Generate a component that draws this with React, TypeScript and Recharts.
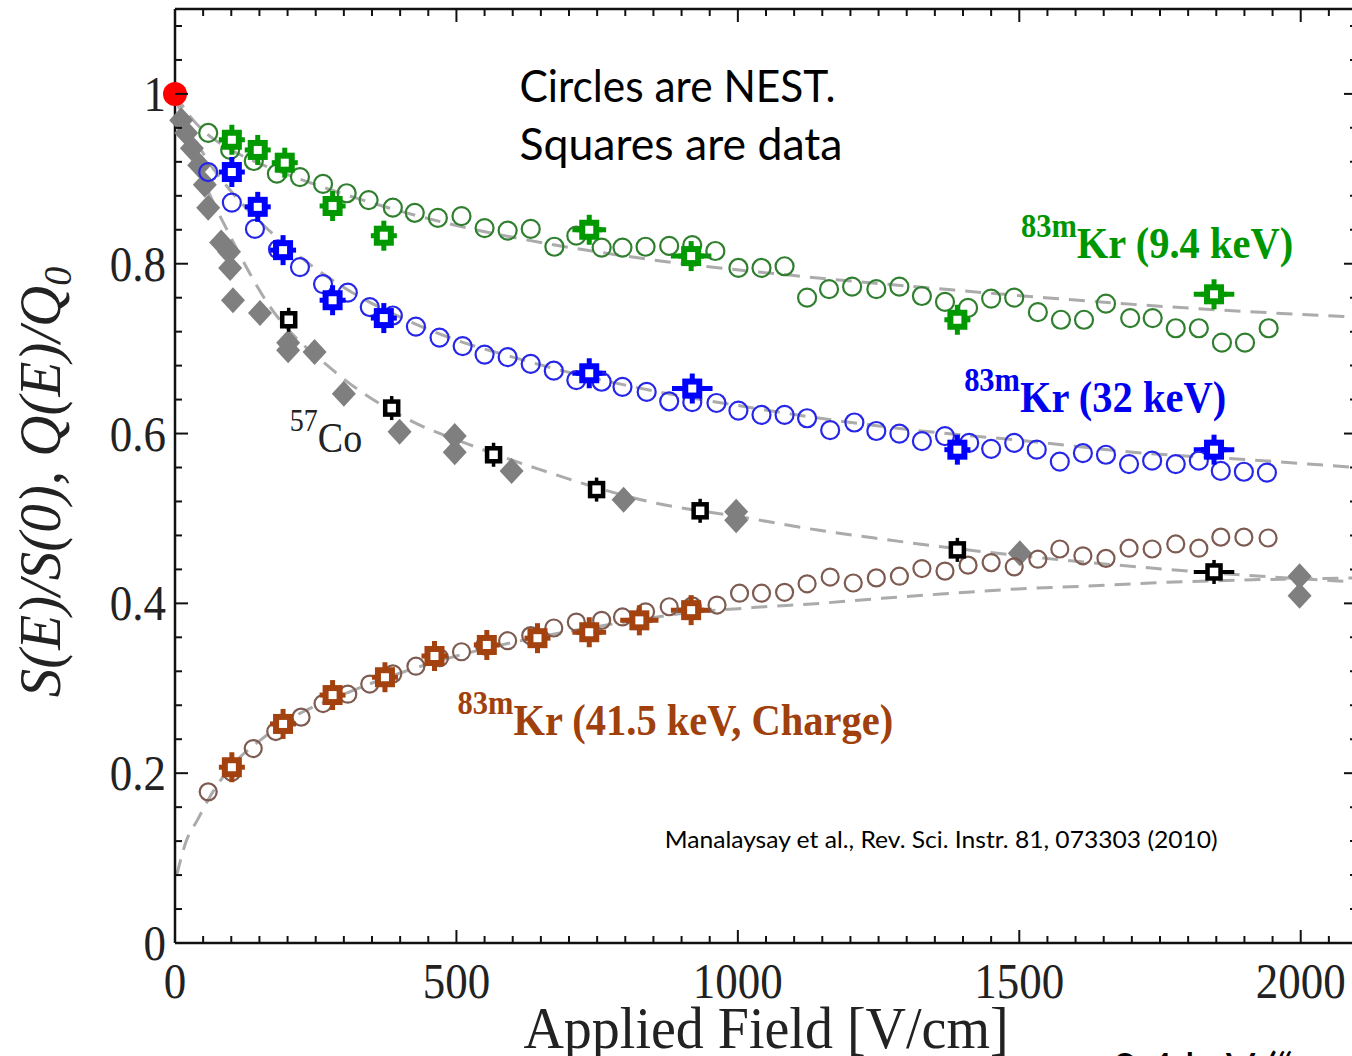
import React from 'react';
import { ComposedChart, XAxis, YAxis, Scatter, Line, ErrorBar, ReferenceDot } from 'recharts';

// ---------- axis ticks ----------
const X_TICKS = [0, 50, 100, 150, 200, 250, 300, 350, 400, 450, 500, 550, 600, 650, 700, 750, 800, 850, 900, 950, 1000, 1050, 1100, 1150, 1200, 1250, 1300, 1350, 1400, 1450, 1500, 1550, 1600, 1650, 1700, 1750, 1800, 1850, 1900, 1950, 2000, 2050, 2100];
const X_LABELS = [0, 500, 1000, 1500, 2000];
const Y_TICKS = [0, 0.04, 0.08, 0.12, 0.16, 0.2, 0.24, 0.28, 0.32, 0.36, 0.4, 0.44, 0.48, 0.52, 0.56, 0.6, 0.64, 0.68, 0.72, 0.76, 0.8, 0.84, 0.88, 0.92, 0.96, 1, 1.04, 1.08];
const Y_LABELS = [0, 0.2, 0.4, 0.6, 0.8, 1];
const Y_LABEL_TEXT = ['0', '0.2', '0.4', '0.6', '0.8', '1'];

// ---------- series: NEST (circles) ----------
const GREEN_NEST = [[59, 0.954], [98, 0.934], [140, 0.921], [181, 0.906], [222, 0.902], [263, 0.894], [305, 0.883], [344, 0.875], [387, 0.866], [426, 0.860], [467, 0.854], [509, 0.856], [550, 0.842], [591, 0.839], [632, 0.841], [674, 0.820], [713, 0.833], [758, 0.819], [795, 0.819], [836, 0.820], [878, 0.821], [919, 0.822], [960, 0.815], [1001, 0.795], [1042, 0.795], [1083, 0.797], [1123, 0.760], [1162, 0.770], [1203, 0.773], [1246, 0.770], [1287, 0.773], [1327, 0.762], [1368, 0.755], [1409, 0.748], [1450, 0.759], [1491, 0.760], [1533, 0.743], [1574, 0.734], [1615, 0.734], [1654, 0.753], [1697, 0.736], [1737, 0.736], [1778, 0.724], [1819, 0.724], [1860, 0.707], [1901, 0.707], [1943, 0.724]];
const BLUE_NEST = [[59, 0.908], [101, 0.872], [142, 0.841], [183, 0.817], [222, 0.796], [263, 0.776], [307, 0.766], [346, 0.749], [387, 0.739], [428, 0.726], [470, 0.713], [511, 0.703], [550, 0.693], [591, 0.690], [632, 0.682], [673, 0.674], [713, 0.663], [758, 0.661], [795, 0.655], [838, 0.649], [878, 0.638], [919, 0.637], [962, 0.636], [1001, 0.627], [1042, 0.622], [1083, 0.622], [1123, 0.618], [1164, 0.604], [1207, 0.613], [1246, 0.603], [1287, 0.600], [1327, 0.591], [1368, 0.597], [1411, 0.589], [1450, 0.582], [1491, 0.589], [1531, 0.581], [1572, 0.567], [1613, 0.577], [1654, 0.575], [1695, 0.564], [1736, 0.568], [1778, 0.564], [1819, 0.568], [1858, 0.556], [1899, 0.555], [1940, 0.554]];
const BROWN_NEST = [[59, 0.178], [101, 0.201], [139, 0.229], [179, 0.249], [224, 0.266], [263, 0.282], [307, 0.293], [346, 0.305], [387, 0.317], [428, 0.326], [470, 0.336], [509, 0.343], [550, 0.350], [591, 0.356], [632, 0.362], [673, 0.371], [713, 0.378], [758, 0.380], [795, 0.384], [836, 0.390], [878, 0.396], [919, 0.397], [963, 0.398], [1003, 0.412], [1042, 0.412], [1083, 0.413], [1123, 0.423], [1164, 0.431], [1205, 0.424], [1246, 0.430], [1287, 0.432], [1327, 0.441], [1368, 0.438], [1409, 0.445], [1450, 0.448], [1491, 0.443], [1533, 0.452], [1572, 0.464], [1613, 0.456], [1654, 0.453], [1695, 0.465], [1736, 0.464], [1778, 0.470], [1819, 0.465], [1858, 0.478], [1899, 0.478], [1942, 0.477]];

// ---------- series: data (squares) [x, y, xErr] ----------
const GREEN_DATA = [[101, 0.946], [147, 0.934], [195, 0.919], [280, 0.868], [371, 0.833], [736, 0.840, 30], [917, 0.809, 36], [1390, 0.734], [1846, 0.764, 36]];
const BLUE_DATA = [[101, 0.908], [147, 0.867], [192, 0.816], [280, 0.757], [371, 0.736], [736, 0.671, 30], [919, 0.653, 36], [1390, 0.581], [1846, 0.581, 36]];
const BROWN_DATA = [[101, 0.207], [192, 0.258], [280, 0.292], [373, 0.313], [461, 0.338], [554, 0.351], [644, 0.359], [736, 0.366, 30], [825, 0.380, 34], [917, 0.392, 36]];
const CO_DATA = [[202, 0.734], [385, 0.630], [566, 0.575], [749, 0.534], [933, 0.509], [1390, 0.463, 14], [1846, 0.437, 36]];
const CO_DIAMONDS = [[11, 0.969], [20, 0.954], [30, 0.936], [43, 0.916], [53, 0.893], [59, 0.866], [82, 0.825], [96, 0.814], [98, 0.795], [103, 0.757], [151, 0.742], [201, 0.707], [201, 0.698], [248, 0.696], [300, 0.647], [399, 0.602], [497, 0.597], [497, 0.578], [598, 0.556], [797, 0.522], [997, 0.508], [997, 0.498], [1501, 0.459], [1998, 0.432], [1998, 0.409]];
const ORIGIN_POINT = [[0, 1]];

// ---------- dashed fits ----------
const GREEN_FIT = [[0, 1], [25, 0.975], [50, 0.957], [100, 0.934], [150, 0.918], [200, 0.905], [300, 0.882], [400, 0.862], [500, 0.845], [650, 0.825], [866, 0.803], [1100, 0.786], [1384, 0.769], [1546, 0.76], [1771, 0.749], [2100, 0.737]];
const BLUE_FIT = [[0, 1], [25, 0.96], [50, 0.93], [100, 0.885], [150, 0.85], [200, 0.82], [300, 0.772], [400, 0.737], [500, 0.71], [600, 0.69], [700, 0.672], [800, 0.657], [900, 0.644], [1000, 0.633], [1146, 0.618], [1260, 0.608], [1546, 0.589], [1702, 0.578], [1910, 0.569], [2100, 0.56]];
const CO_FIT = [[0, 1], [20, 0.955], [50, 0.9], [100, 0.83], [163, 0.755], [280, 0.675], [422, 0.614], [523, 0.587], [642, 0.559], [855, 0.518], [1003, 0.502], [1145, 0.486], [1253, 0.476], [1434, 0.461], [1783, 0.439], [2100, 0.425]];
const BROWN_FIT = [[3, 0.08], [20, 0.12], [40, 0.145], [60, 0.17], [100, 0.208], [150, 0.238], [200, 0.262], [300, 0.293], [400, 0.318], [500, 0.338], [600, 0.354], [700, 0.367], [800, 0.378], [900, 0.388], [1026, 0.395], [1145, 0.4], [1256, 0.406], [1384, 0.412], [1496, 0.417], [1610, 0.42], [1734, 0.424], [2100, 0.43]];

// ---------- annotation anchors (data coords) ----------
const NOTE_NEST = [612, 0.991];
const NOTE_CITE = [870, 0.112];
const NOTE_ANOM = [1665, -0.167];
const LABEL_GREEN = [1503, 0.807];
const LABEL_BLUE = [1402, 0.625];
const LABEL_BROWN = [502, 0.245];
const LABEL_CO = [204, 0.578];

const SERIF = '"Liberation Serif", "Times New Roman", Times, serif';
const SANS = 'Lato, "Open Sans", "Liberation Sans", sans-serif';
const STRETCH = 1.12;

const C = {
  greenData: '#009a00', greenNest: '#2f7f2f', greenText: '#009600',
  blueData: '#0000ff', blueNest: '#2626e8', blueText: '#0000f0',
  brownData: '#a3420f', brownNest: '#7d5b50', brownText: '#a0400c',
  co: '#000000', diamond: '#7f7f7f', fit: '#ababab', axis: '#111111', text: '#222222',
};

const toPts = (arr: number[][]) => arr.map((a) => ({ x: a[0], y: a[1], xErr: a[2] ?? 0 }));
const isIn = (arr: number[], v: number) => arr.some((a) => Math.abs(a - v) < 1e-6);

// ---------- ticks ----------
const BottomTick = (p: any) => {
  const { x, y, payload } = p;
  const v = payload.value;
  const major = isIn(X_LABELS, v);
  return (
    <g>
      <line x1={x} x2={x} y1={y} y2={y - (major ? 13 : 7)} stroke={C.axis} strokeWidth={2} />
      {major && (
        <text transform={`translate(${x},${y + 55}) scale(1,${STRETCH})`} textAnchor="middle" fontFamily={SERIF} fontSize={45} fill={C.text}>
          {String(v)}
        </text>
      )}
    </g>
  );
};
const TopTick = (p: any) => {
  const { x, y, payload } = p;
  const major = isIn(X_LABELS, payload.value);
  return <line x1={x} x2={x} y1={y} y2={y + (major ? 13 : 7)} stroke={C.axis} strokeWidth={2} />;
};
const LeftTick = (p: any) => {
  const { x, y, payload } = p;
  const v = payload.value;
  const idx = Y_LABELS.findIndex((a) => Math.abs(a - v) < 1e-6);
  const major = idx >= 0;
  return (
    <g>
      <line x1={x} x2={x + (major ? 13 : 7)} y1={y} y2={y} stroke={C.axis} strokeWidth={2} />
      {major && (
        <text transform={`translate(${x - 9},${y + 17}) scale(1,${STRETCH})`} textAnchor="end" fontFamily={SERIF} fontSize={45} fill={C.text}>
          {Y_LABEL_TEXT[idx]}
        </text>
      )}
    </g>
  );
};
const RightTick = (p: any) => {
  const { x, y, payload } = p;
  const major = isIn(Y_LABELS, payload.value);
  return <line x1={x} x2={x - (major ? 13 : 7)} y1={y} y2={y} stroke={C.axis} strokeWidth={2} />;
};

// ---------- axis titles ----------
const XTitle = (p: any) => {
  const vb = p.viewBox;
  return (
    <text transform={`translate(${vb.x + vb.width / 2},${vb.y + 105}) scale(1,1.04)`} textAnchor="middle" fontFamily={SERIF} fontSize={56} fill={C.text}>
      Applied Field [V/cm]
    </text>
  );
};
const YTitle = (p: any) => {
  const vb = p.viewBox;
  const cx = vb.x + 60;
  const cy = vb.y + vb.height / 2 + 6;
  return (
    <text transform={`translate(${cx},${cy}) rotate(-90) scale(1,1.05)`} textAnchor="middle" fontFamily={SERIF} fontStyle="italic" fontSize={57} fill={C.text}>
      S(E)/S(0), Q(E)/Q<tspan fontSize={38} dy={10}>0</tspan>
    </text>
  );
};

// ---------- annotation labels ----------
const IsoLabel = (p: any) => {
  const { viewBox, sup, main, color, bold, size, supSize } = p;
  return (
    <text transform={`translate(${viewBox.x},${viewBox.y}) scale(1,1.1)`} fontFamily={SERIF} fontWeight={bold ? 'bold' : 'normal'} fill={color} fontSize={size}>
      <tspan fontSize={supSize} dy={-19}>{sup}</tspan>
      <tspan dy={19}>{main}</tspan>
    </text>
  );
};
const NestNote = (p: any) => {
  const { x, y } = p.viewBox;
  return (
    <text x={x} y={y} fontFamily={SANS} fontSize={44} fill="#000">
      <tspan x={x} textLength={316} lengthAdjust="spacingAndGlyphs">Circles are NEST.</tspan>
      <tspan x={x} dy={58} textLength={323} lengthAdjust="spacingAndGlyphs">Squares are data</tspan>
    </text>
  );
};
const CiteNote = (p: any) => {
  const { x, y } = p.viewBox;
  return (
    <text x={x} y={y} fontFamily={SANS} fontSize={23} fill="#000" textLength={553} lengthAdjust="spacingAndGlyphs">
      Manalaysay et al., Rev. Sci. Instr. 81, 073303 (2010)
    </text>
  );
};
const AnomNote = (p: any) => {
  const { x, y } = p.viewBox;
  return (
    <text x={x} y={y} fontFamily={SANS} fontSize={44} fill="#000">
      9.4 keV (“anomalous”)
    </text>
  );
};

// ---------- marker shapes ----------
const nestShape = (color: string, r: number) => (p: any) => (
  <circle cx={p.cx} cy={p.cy} r={r} fill="none" stroke={color} strokeWidth={2.2} />
);
const dataShape = (color: string) => (p: any) => {
  const { cx, cy } = p;
  return (
    <g>
      <line x1={cx} x2={cx} y1={cy - 15} y2={cy + 15} stroke={color} strokeWidth={5} />
      <line x1={cx - 13} x2={cx + 13} y1={cy} y2={cy} stroke={color} strokeWidth={5} />
      <rect x={cx - 7} y={cy - 7} width={14} height={14} fill="#fff" stroke={color} strokeWidth={6} />
    </g>
  );
};
const coShape = (p: any) => {
  const { cx, cy } = p;
  return (
    <g>
      <line x1={cx} x2={cx} y1={cy - 12} y2={cy + 12} stroke={C.co} strokeWidth={3.5} />
      <rect x={cx - 6.5} y={cy - 6.5} width={13} height={13} fill="#fff" stroke={C.co} strokeWidth={4.5} />
    </g>
  );
};
const diamondShape = (p: any) => {
  const { cx, cy } = p;
  return <polygon points={`${cx},${cy - 13} ${cx + 12},${cy} ${cx},${cy + 13} ${cx - 12},${cy}`} fill={C.diamond} />;
};
const redShape = (p: any) => <circle cx={p.cx} cy={p.cy} r={12} fill="#ff0000" />;
const hiddenShape = () => <g />;

const fitLine = (data: number[][], key: string) => (
  <Line
    key={key}
    data={toPts(data)}
    dataKey="y"
    xAxisId="b"
    yAxisId="l"
    type="monotone"
    dot={false}
    activeDot={false}
    stroke={C.fit}
    strokeWidth={3}
    strokeDasharray="16 10"
    isAnimationActive={false}
  />
);

const anchor = (pos: number[], label: any, key: string) => (
  <ReferenceDot key={key} x={pos[0]} y={pos[1]} xAxisId="b" yAxisId="l" r={0} fill="none" stroke="none" ifOverflow="visible" label={label} />
);

export default function App() {
  return (
    <div style={{ position: 'absolute', left: 0, top: 0, width: 1352, height: 1056, overflow: 'hidden', background: '#fff' }}>
      <ComposedChart width={1362} height={1056} margin={{ top: 8, right: 4, bottom: 0, left: 0 }}>
        <XAxis
          xAxisId="b"
          dataKey="x"
          type="number"
          domain={[0, 2100]}
          ticks={X_TICKS}
          interval={0}
          tickSize={0}
          tickMargin={0}
          tickLine={false}
          tick={(p: any) => <BottomTick {...p} />}
          axisLine={{ stroke: C.axis, strokeWidth: 2.5 }}
          height={113}
          label={<XTitle />}
        />
        <XAxis
          xAxisId="t"
          orientation="top"
          dataKey="x"
          type="number"
          domain={[0, 2100]}
          allowDataOverflow
          ticks={X_TICKS}
          interval={0}
          tickSize={0}
          tickMargin={0}
          tickLine={false}
          tick={(p: any) => <TopTick {...p} />}
          axisLine={{ stroke: C.axis, strokeWidth: 2.5 }}
          height={1}
        />
        <YAxis
          yAxisId="l"
          dataKey="y"
          type="number"
          domain={[0, 1.1]}
          ticks={Y_TICKS}
          interval={0}
          tickSize={0}
          tickMargin={0}
          tickLine={false}
          tick={(p: any) => <LeftTick {...p} />}
          axisLine={{ stroke: C.axis, strokeWidth: 2.5 }}
          width={175}
          label={<YTitle />}
        />
        <YAxis
          yAxisId="r"
          orientation="right"
          dataKey="y"
          type="number"
          domain={[0, 1.1]}
          allowDataOverflow
          ticks={Y_TICKS}
          interval={0}
          tickSize={0}
          tickMargin={0}
          tickLine={false}
          tick={(p: any) => <RightTick {...p} />}
          axisLine={{ stroke: C.axis, strokeWidth: 2.5 }}
          width={1}
        />

        {/* invisible series that binds the top and right frame axes */}
        <Scatter data={toPts(ORIGIN_POINT)} dataKey="y" xAxisId="t" yAxisId="r" shape={hiddenShape} isAnimationActive={false} />

        <Scatter data={toPts(CO_DIAMONDS)} dataKey="y" xAxisId="b" yAxisId="l" shape={diamondShape} isAnimationActive={false} />

        {fitLine(GREEN_FIT, 'gf')}
        {fitLine(BLUE_FIT, 'bf')}
        {fitLine(CO_FIT, 'cf')}
        {fitLine(BROWN_FIT, 'rf')}

        <Scatter data={toPts(GREEN_NEST)} dataKey="y" xAxisId="b" yAxisId="l" shape={nestShape(C.greenNest, 9)} isAnimationActive={false} />
        <Scatter data={toPts(BLUE_NEST)} dataKey="y" xAxisId="b" yAxisId="l" shape={nestShape(C.blueNest, 9)} isAnimationActive={false} />
        <Scatter data={toPts(BROWN_NEST)} dataKey="y" xAxisId="b" yAxisId="l" shape={nestShape(C.brownNest, 8.5)} isAnimationActive={false} />

        <Scatter data={toPts(GREEN_DATA)} dataKey="y" xAxisId="b" yAxisId="l" shape={dataShape(C.greenData)} isAnimationActive={false}>
          <ErrorBar dataKey="xErr" direction="x" width={0} stroke={C.greenData} strokeWidth={5} />
        </Scatter>
        <Scatter data={toPts(BLUE_DATA)} dataKey="y" xAxisId="b" yAxisId="l" shape={dataShape(C.blueData)} isAnimationActive={false}>
          <ErrorBar dataKey="xErr" direction="x" width={0} stroke={C.blueData} strokeWidth={5} />
        </Scatter>
        <Scatter data={toPts(BROWN_DATA)} dataKey="y" xAxisId="b" yAxisId="l" shape={dataShape(C.brownData)} isAnimationActive={false}>
          <ErrorBar dataKey="xErr" direction="x" width={0} stroke={C.brownData} strokeWidth={5} />
        </Scatter>
        <Scatter data={toPts(CO_DATA)} dataKey="y" xAxisId="b" yAxisId="l" shape={coShape} isAnimationActive={false}>
          <ErrorBar dataKey="xErr" direction="x" width={0} stroke={C.co} strokeWidth={4} />
        </Scatter>
        <Scatter data={toPts(ORIGIN_POINT)} dataKey="y" xAxisId="b" yAxisId="l" shape={redShape} isAnimationActive={false} />

        {anchor(NOTE_NEST, <NestNote />, 'n1')}
        {anchor(NOTE_CITE, <CiteNote />, 'n2')}
        {anchor(NOTE_ANOM, <AnomNote />, 'n3')}
        {anchor(LABEL_GREEN, <IsoLabel sup="83m" main="Kr (9.4 keV)" color={C.greenText} bold size={40.5} supSize={30.5} />, 'l1')}
        {anchor(LABEL_BLUE, <IsoLabel sup="83m" main="Kr (32 keV)" color={C.blueText} bold size={40.5} supSize={30.5} />, 'l2')}
        {anchor(LABEL_BROWN, <IsoLabel sup="83m" main="Kr (41.5 keV, Charge)" color={C.brownText} bold size={40.5} supSize={30.5} />, 'l3')}
        {anchor(LABEL_CO, <IsoLabel sup="57" main="Co" color={C.text} bold={false} size={38} supSize={28} />, 'l4')}
      </ComposedChart>
    </div>
  );
}
